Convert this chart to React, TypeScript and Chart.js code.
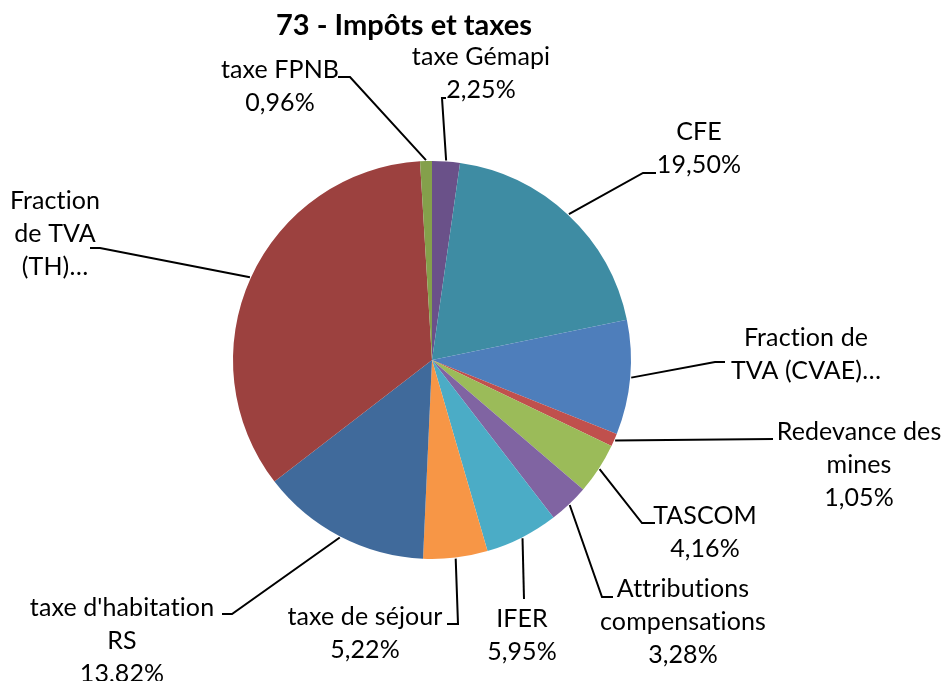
import React, { useEffect, useRef } from "react";
import { Chart, registerables } from "chart.js";

Chart.register(...registerables);

const title = "73 - Impôts et taxes";

const categories = [
  "taxe Gémapi",
  "CFE",
  "Fraction de TVA (CVAE)…",
  "Redevance des mines",
  "TASCOM",
  "Attributions compensations",
  "IFER",
  "taxe de séjour",
  "taxe d'habitation RS",
  "Fraction de TVA (TH)…",
  "taxe FPNB",
];

const shares = [2.25, 19.5, 9.31, 1.05, 4.16, 3.28, 5.95, 5.22, 13.82, 34.5, 0.96];

// label text as wrapped (and truncated) in the reference
const nameLines = [
  ["taxe Gémapi"],
  ["CFE"],
  ["Fraction de", "TVA (CVAE)…"],
  ["Redevance des", "mines"],
  ["TASCOM"],
  ["Attributions", "compensations"],
  ["IFER"],
  ["taxe de séjour"],
  ["taxe d'habitation", "RS"],
  ["Fraction", "de TVA", "(TH)…"],
  ["taxe FPNB"],
];

// truncated labels lose their percentage
const percentShown = [true, true, false, true, true, true, true, true, true, false, true];

const colors = [
  "#6A5189",
  "#3E8CA3",
  "#4E7EBB",
  "#C0504D",
  "#9BBB59",
  "#8064A2",
  "#4BACC6",
  "#F79646",
  "#406A9B",
  "#9C413F",
  "#84A04B",
];

// label layout (canvas px): text block centre, elbow point, stub end
const labelLayout = [
  { cx: 481, cy: 73.5, elbow: [442, 98], stub: [446, 98] },
  { cx: 699, cy: 148.5, elbow: [643, 173], stub: [656, 173] },
  { cx: 806, cy: 354.5, elbow: [715, 362], stub: [725, 362] },
  { cx: 859, cy: 465, elbow: [773, 439], stub: [773, 439] },
  { cx: 705, cy: 532.5, elbow: [642, 523], stub: [655, 523] },
  { cx: 683, cy: 622, elbow: [602, 597], stub: [613, 597] },
  { cx: 522, cy: 635, elbow: [524, 599], stub: [524, 599] },
  { cx: 365, cy: 633.5, elbow: [458, 624], stub: [447, 624] },
  { cx: 122, cy: 641, elbow: [232, 614], stub: [222, 614] },
  { cx: 55, cy: 233.5, elbow: [100, 248], stub: [90, 248] },
  { cx: 280, cy: 86, elbow: [350, 77], stub: [338, 77] },
];

const FONT = "Lato, 'Open Sans', sans-serif";
const LINE_H = 33;

const labelPlugin = {
  id: "pieLabels",
  afterDatasetsDraw(chart: any) {
    const ctx = chart.ctx;
    const meta = chart.getDatasetMeta(0);
    ctx.save();
    ctx.fillStyle = "#000";
    ctx.font = `bold 29px ${FONT}`;
    ctx.textAlign = "center";
    ctx.textBaseline = "alphabetic";
    ctx.fillText(title, 404, 35);

    meta.data.forEach((arc: any, i: number) => {
      const { x, y, outerRadius, startAngle, endAngle } = arc.getProps(
        ["x", "y", "outerRadius", "startAngle", "endAngle"],
        true
      );
      const mid = (startAngle + endAngle) / 2;
      const sx = x + Math.cos(mid) * (outerRadius + 1);
      const sy = y + Math.sin(mid) * (outerRadius + 1);
      const L = labelLayout[i];
      ctx.strokeStyle = "#000";
      ctx.lineWidth = 2;
      ctx.beginPath();
      ctx.moveTo(sx, sy);
      ctx.lineTo(L.elbow[0], L.elbow[1]);
      ctx.lineTo(L.stub[0], L.stub[1]);
      ctx.stroke();

      const lines = [...nameLines[i]];
      if (percentShown[i]) lines.push(shares[i].toFixed(2).replace(".", ",") + "%");
      ctx.font = `25px ${FONT}`;
      if ("letterSpacing" in ctx) (ctx as any).letterSpacing = "0.1px";
      ctx.textAlign = "center";
      ctx.textBaseline = "middle";
      ctx.fillStyle = "#000";
      const top = L.cy - ((lines.length - 1) * LINE_H) / 2;
      lines.forEach((t, k) => ctx.fillText(t, L.cx, top + k * LINE_H));
    });
    ctx.restore();
  },
};

export default function App() {
  const ref = useRef<HTMLCanvasElement>(null);
  useEffect(() => {
    document.body.style.margin = "0";
    document.body.style.overflow = "hidden";
    if (!ref.current) return;
    const chart = new Chart(ref.current, {
      type: "pie",
      data: {
        labels: categories,
        datasets: [
          {
            data: shares,
            backgroundColor: colors,
            borderWidth: 0,
          },
        ],
      },
      options: {
        animation: false,
        responsive: false,
        maintainAspectRatio: false,
        layout: { padding: { top: 161, bottom: 122, left: 100, right: 181 } },
        plugins: {
          legend: { display: false },
          tooltip: { enabled: false },
          title: { display: false },
        },
      },
      plugins: [labelPlugin],
    });
    return () => chart.destroy();
  }, []);
  return (
    <div style={{ width: 945, height: 681 }}>
      <canvas ref={ref} width={945} height={681} style={{ display: "block" }} />
    </div>
  );
}
